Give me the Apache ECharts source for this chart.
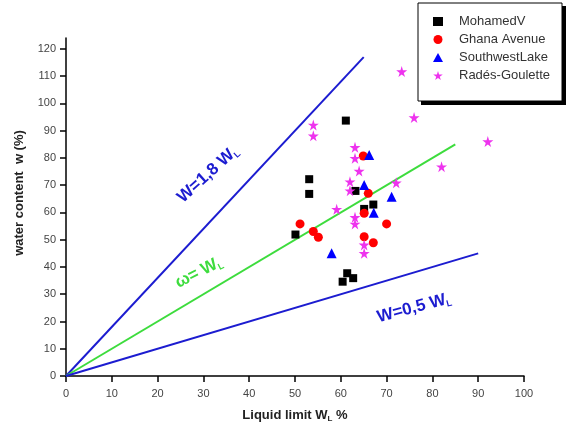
<!DOCTYPE html>
<html>
<head>
    <meta charset="utf-8">
    <title>Water content vs liquid limit</title>
    <style>
        html, body { margin: 0; padding: 0; background: #fff; }
        #chart { width: 566px; height: 428px; }
    </style>
</head>
<body>
    <div id="chart"></div>
    <script src="https://cdn.jsdelivr.net/npm/echarts@6/dist/echarts.min.js"></script>
    <script>
        // values (liquid limit %, water content %)
        var mohamedX = [61.1, 53.1, 53.1, 63.2, 67.1, 65.1, 50.1, 61.4, 62.7, 60.4];
        var mohamedY = [93.7, 72.2, 66.8, 67.9, 62.9, 61.3, 51.9, 37.7, 35.9, 34.6];
        var ghanaX = [64.9, 66.0, 65.1, 51.1, 54.0, 55.1, 70.0, 65.1, 67.1];
        var ghanaY = [80.7, 67.0, 59.7, 55.8, 53.0, 50.9, 55.8, 51.1, 48.9];
        var lakeX = [66.2, 65.1, 71.1, 67.2, 58.0];
        var lakeY = [81.1, 70.1, 65.8, 59.9, 45.0];
        var radesX = [54.0, 54.0, 63.1, 63.1, 64.0, 62.0, 62.0, 59.1, 63.1, 63.1, 65.1, 65.1, 72.1, 73.3, 76.0, 82.0, 92.1];
        var radesY = [92.1, 88.1, 83.9, 79.9, 75.2, 71.3, 68.0, 61.2, 58.2, 55.8, 48.1, 45.0, 70.9, 111.7, 94.8, 76.8, 86.0];

        // reference lines W = k * WL : slope and end of the drawn segment
        var lineSlopes = [1.8, 1.0, 0.5];
        var lineEndsX = [65, 85, 90];

        var seriesNames = ['MohamedV', 'Ghana Avenue', 'SouthwestLake', 'Radés-Goulette'];
        var yTicks = [0, 10, 20, 30, 40, 50, 60, 70, 80, 90, 100, 110, 120];

        var starPath = 'path://M50,0 L61,35 L98,35 L68,57 L79,91 L50,70 L21,91 L32,57 L2,35 L39,35 Z';
        var blue = '#1c1cd0';
        var green = '#3ddc3d';
        var font = 'Liberation Sans, Arial, sans-serif';

        function pairs(xs, ys) {
            return xs.map(function (x, i) { return [x, ys[i]]; });
        }

        function refLine(i, color) {
            return {
                type: 'line',
                data: [[0, 0], [lineEndsX[i], lineEndsX[i] * lineSlopes[i]]],
                showSymbol: false,
                silent: true,
                lineStyle: { color: color, width: 2 },
                z: 1
            };
        }

        var chart = echarts.init(document.getElementById('chart'));
        var option = {
            animation: false,
            textStyle: { fontFamily: font },
            grid: { left: 66, right: 42, top: 38, bottom: 52 },
            legend: {
                data: seriesNames,
                orient: 'vertical',
                left: 428,
                top: 10,
                padding: 5,
                itemWidth: 10,
                itemHeight: 9,
                itemGap: 5,
                textStyle: { fontSize: 13, color: '#333', fontFamily: font, padding: [0, 0, 0, 11] }
            },
            xAxis: {
                type: 'value',
                min: 0,
                max: 100,
                interval: 10,
                splitLine: { show: false },
                axisLine: { onZero: false, lineStyle: { color: '#000', width: 1.5 } },
                axisTick: { length: 6, lineStyle: { color: '#000', width: 1.5 } },
                axisLabel: { fontSize: 11, color: '#444', margin: 12 },
                name: '{b|Liquid limit W}{s|L}{b| %}',
                nameLocation: 'middle',
                nameGap: 31,
                nameTextStyle: {
                    rich: {
                        b: { fontSize: 13, fontWeight: 'bold', color: '#222', fontFamily: font },
                        s: { fontSize: 8, fontWeight: 'bold', color: '#222', fontFamily: font, padding: [8, 0, 0, 0] }
                    }
                }
            },
            yAxis: {
                type: 'value',
                min: 0,
                max: 124,
                splitLine: { show: false },
                axisLine: { onZero: false, lineStyle: { color: '#000', width: 1.5 } },
                axisTick: { length: 6, customValues: yTicks, lineStyle: { color: '#000', width: 1.5 } },
                axisLabel: { fontSize: 11, color: '#444', margin: 10, customValues: yTicks },
                name: 'water content  w (%)',
                nameLocation: 'middle',
                nameGap: 40,
                nameTextStyle: { fontSize: 13, fontWeight: 'bold', color: '#222', padding: [0, 0, 0, 28] }
            },
            series: [
                refLine(0, blue),
                refLine(1, green),
                refLine(2, blue),
                {
                    name: seriesNames[0], type: 'scatter', symbol: 'rect', symbolSize: 8,
                    itemStyle: { color: '#000', opacity: 1 }, data: pairs(mohamedX, mohamedY)
                },
                {
                    name: seriesNames[1], type: 'scatter', symbol: 'circle', symbolSize: 9,
                    itemStyle: { color: '#ff0000', opacity: 1 }, data: pairs(ghanaX, ghanaY)
                },
                {
                    name: seriesNames[2], type: 'scatter', symbol: 'triangle', symbolSize: 10,
                    itemStyle: { color: '#0000ff', opacity: 1 }, data: pairs(lakeX, lakeY)
                },
                {
                    name: seriesNames[3], type: 'scatter', symbol: starPath, symbolSize: 11,
                    itemStyle: { color: '#ee33ee', opacity: 1 }, data: pairs(radesX, radesY)
                }
            ]
        };
        chart.setOption(option);

        // line captions, placed in data coordinates
        function caption(at, main, color, deg) {
            var p = chart.convertToPixel({ gridIndex: 0 }, at);
            return {
                type: 'text',
                x: p[0], y: p[1],
                rotation: deg * Math.PI / 180,
                style: {
                    text: '{m|' + main + '}{s|L}',
                    align: 'center',
                    verticalAlign: 'middle',
                    rich: {
                        m: { fontSize: 17, fontWeight: 'bold', fill: color, fontFamily: font },
                        s: { fontSize: 9, fontWeight: 'bold', fill: color, fontFamily: font, padding: [10, 0, 0, 0] }
                    }
                },
                z: 5
            };
        }

        chart.setOption({
            graphic: [
                // legend frame with its drop shadow
                { type: 'rect', shape: { x: 421, y: 6, width: 145, height: 99 }, style: { fill: '#000' }, z: 0 },
                { type: 'rect', shape: { x: 418, y: 3, width: 144, height: 98 }, style: { fill: '#fff', stroke: '#000', lineWidth: 1 }, z: 0 },
                caption([31, 74], 'W=1,8 W', blue, 42),
                caption([29, 38], 'ω= W', green, 27),
                caption([76, 25], 'W=0,5 W', blue, 15)
            ]
        });
    </script>
</body>
</html>
